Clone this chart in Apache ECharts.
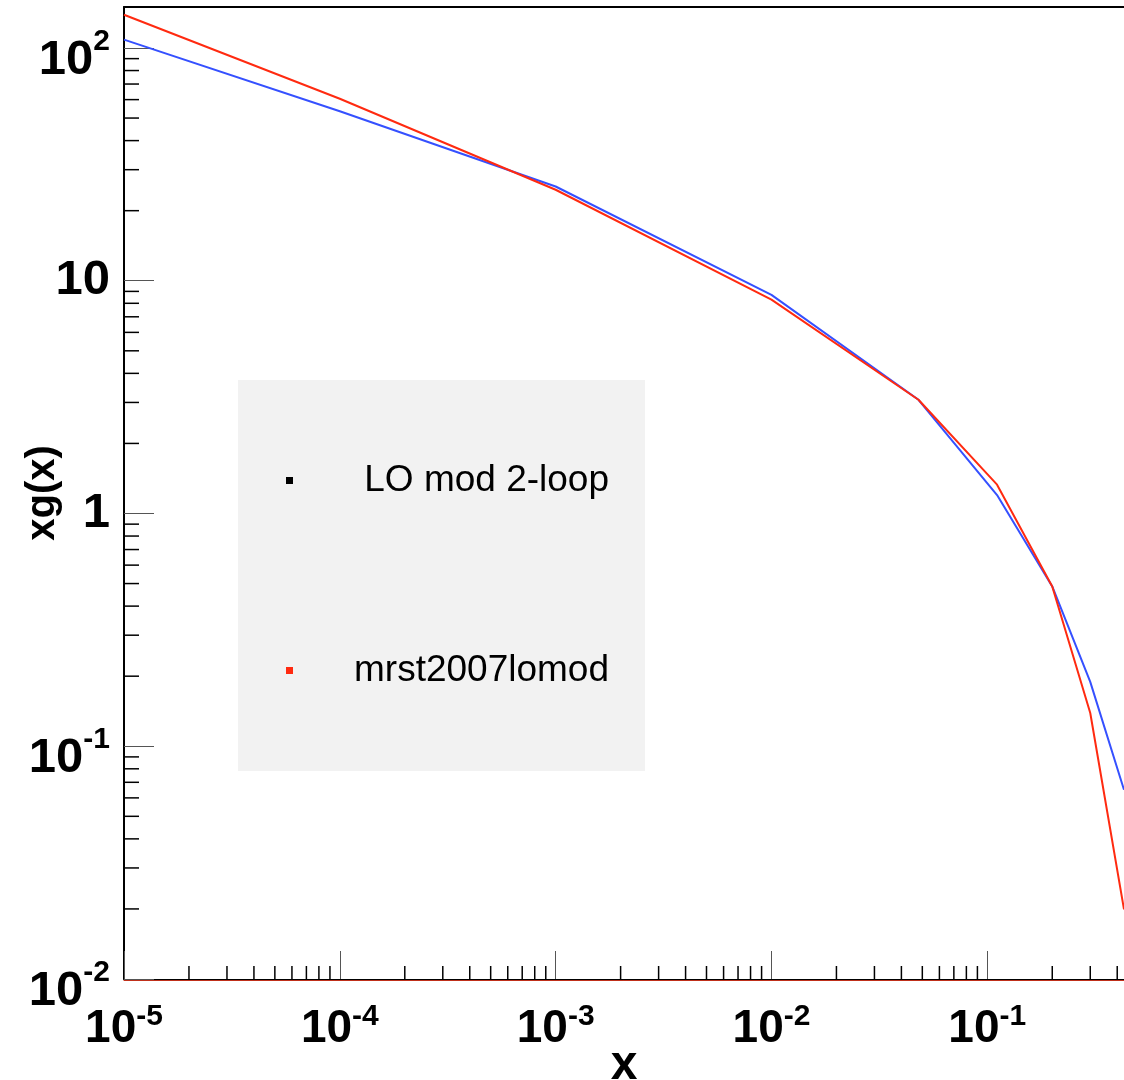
<!DOCTYPE html>
<html>
<head>
<meta charset="utf-8">
<script src="https://cdn.jsdelivr.net/npm/echarts@6/dist/echarts.min.js"></script>
<style>
html,body{margin:0;padding:0;background:#fff;}
#chart{width:1124px;height:1080px;}
</style>
</head>
<body>
<div id="chart"></div>
<script>
// ---- data ----
const xValues = [1e-5, 1e-4, 1e-3, 1e-2, 0.048, 0.111, 0.2, 0.3, 0.43];
const loMod2Loop = [108.6, 53.5, 25.4, 8.7, 3.08, 1.2, 0.486, 0.189, 0.065];
const mrst2007lomod = [139, 60.5, 24.6, 8.3, 3.08, 1.33, 0.486, 0.139, 0.0199];
const seriesNames = ['LO mod 2-loop', 'mrst2007lomod'];
const xRange = [1e-5, 0.43];
const yRange = [0.01, 150];
const xDecades = [-5, -4, -3, -2, -1];
const yDecades = [-2, -1, 0, 1, 2];

const FONT = 'Liberation Sans, Arial, Helvetica, sans-serif';

function minorTicks(decades, lo, hi) {
  const out = [];
  decades.concat([decades[decades.length - 1] + 1]).forEach(function (e) {
    for (let m = 2; m <= 9; m++) {
      const v = m * Math.pow(10, e - 1);
      if (v > lo && v < hi) out.push(v);
    }
  });
  return out;
}
const xMinor = minorTicks(xDecades, xRange[0], xRange[1]);
const yMinor = minorTicks(yDecades, yRange[0], yRange[1]);

function pair(xs, ys) { return xs.map(function (x, i) { return [x, ys[i]]; }); }

function expLabel(v, plainSmall) {
  const l = Math.log10(v);
  const e = Math.round(l);
  if (Math.abs(l - e) > 1e-6) return '';
  if (plainSmall && e === 0) return '{p|1}';
  if (plainSmall && e === 1) return '{p|10}';
  return '{b|10}{s|' + e + '}';
}
const xRich = {
  b: {fontSize: 46, fontWeight: 'bold', fontFamily: FONT, color: '#000'},
  s: {fontSize: 30, fontWeight: 'bold', fontFamily: FONT, color: '#000', padding: [0, 0, 24, 0]}
};
const yRich = {
  p: {fontSize: 49, fontWeight: 'bold', fontFamily: FONT, color: '#000'},
  b: {fontSize: 49, fontWeight: 'bold', fontFamily: FONT, color: '#000', padding: [24, 0, 0, 0]},
  s: {fontSize: 30, fontWeight: 'bold', fontFamily: FONT, color: '#000', padding: [0, 0, 13, 0]}
};

const chart = echarts.init(document.getElementById('chart'), null, {renderer: 'canvas'});
chart.setOption({
  animation: false,
  backgroundColor: '#fff',
  grid: {left: 124, right: 0, top: 7, bottom: 101, containLabel: false, outerBoundsMode: 'none'},
  legend: {
    orient: 'vertical',
    left: 238, top: 380,
    backgroundColor: '#f2f2f2',
    padding: [82, 36, 82, 48],
    itemGap: 153,
    itemWidth: 7, itemHeight: 7,
    icon: 'rect',
    selectedMode: false,
    data: [
      {name: seriesNames[0], itemStyle: {color: '#000'}},
      {name: seriesNames[1], itemStyle: {color: '#ff2a10'}}
    ],
    formatter: function (n) { return '{r|' + n + '}'; },
    textStyle: {
      rich: {r: {width: 311, align: 'right', fontSize: 37, lineHeight: 40, fontFamily: FONT, color: '#000'}}
    }
  },
  xAxis: [
    {
      type: 'log', logBase: 10, min: xRange[0], max: xRange[1],
      name: 'x', nameLocation: 'middle', nameGap: 63, nameMoveOverlap: false,
      nameTextStyle: {fontSize: 48, fontWeight: 'bold', fontFamily: FONT, color: '#000'},
      axisLine: {show: true, onZero: false, lineStyle: {color: '#000', width: 1}},
      axisTick: {show: true, inside: true, length: 28, lineStyle: {color: '#555', width: 1}},
      axisLabel: {margin: 23, showMaxLabel: false, formatter: function (v) { return expLabel(v, false); }, rich: xRich},
      splitLine: {show: false}
    },
    {
      type: 'value', position: 'top', min: 0, max: 1,
      axisLine: {show: true, lineStyle: {color: '#000', width: 2}},
      axisTick: {show: false}, axisLabel: {show: false}, splitLine: {show: false}
    },
    {
      type: 'value', position: 'bottom', offset: 1, min: 0, max: 1,
      axisLine: {show: true, lineStyle: {color: '#c0301a', width: 1}},
      axisTick: {show: false}, axisLabel: {show: false}, splitLine: {show: false}
    }
  ],
  yAxis: {
    type: 'log', logBase: 10, min: yRange[0], max: yRange[1],
    name: 'xg(x)', nameLocation: 'middle', nameGap: 61, nameMoveOverlap: false,
    nameTextStyle: {fontSize: 40, fontWeight: 'bold', fontFamily: FONT, color: '#000'},
    axisLine: {show: true, onZero: false, lineStyle: {color: '#000', width: 2}},
    axisTick: {show: true, inside: true, length: 30, lineStyle: {color: '#555', width: 1}},
    axisLabel: {margin: 14, showMaxLabel: false, formatter: function (v) { return expLabel(v, true); }, rich: yRich},
    splitLine: {show: false}
  },
  series: [
    {
      name: seriesNames[0], type: 'line', xAxisIndex: 0,
      data: pair(xValues, loMod2Loop),
      showSymbol: false, symbol: 'none', clip: true,
      lineStyle: {color: '#3550ff', width: 2},
      itemStyle: {color: '#000'}
    },
    {
      name: seriesNames[1], type: 'line', xAxisIndex: 0,
      data: pair(xValues, mrst2007lomod),
      showSymbol: false, symbol: 'none', clip: true,
      lineStyle: {color: '#ff2a10', width: 2},
      itemStyle: {color: '#ff2a10'}
    },
    {
      name: 'xminor', type: 'custom', xAxisIndex: 0, silent: true,
      data: xMinor.map(function (v) { return [v, yRange[0]]; }),
      renderItem: function (params, api) {
        const p = api.coord([api.value(0), api.value(1)]);
        return {type: 'line', shape: {x1: p[0], y1: p[1], x2: p[0], y2: p[1] - 13}, style: {stroke: '#000', lineWidth: 1.5}};
      }
    },
    {
      name: 'yminor', type: 'custom', xAxisIndex: 0, silent: true,
      data: yMinor.map(function (v) { return [xRange[0], v]; }),
      renderItem: function (params, api) {
        const p = api.coord([api.value(0), api.value(1)]);
        return {type: 'line', shape: {x1: p[0], y1: p[1], x2: p[0] + 15, y2: p[1]}, style: {stroke: '#000', lineWidth: 1.5}};
      }
    }
  ]
});
</script>
</body>
</html>
